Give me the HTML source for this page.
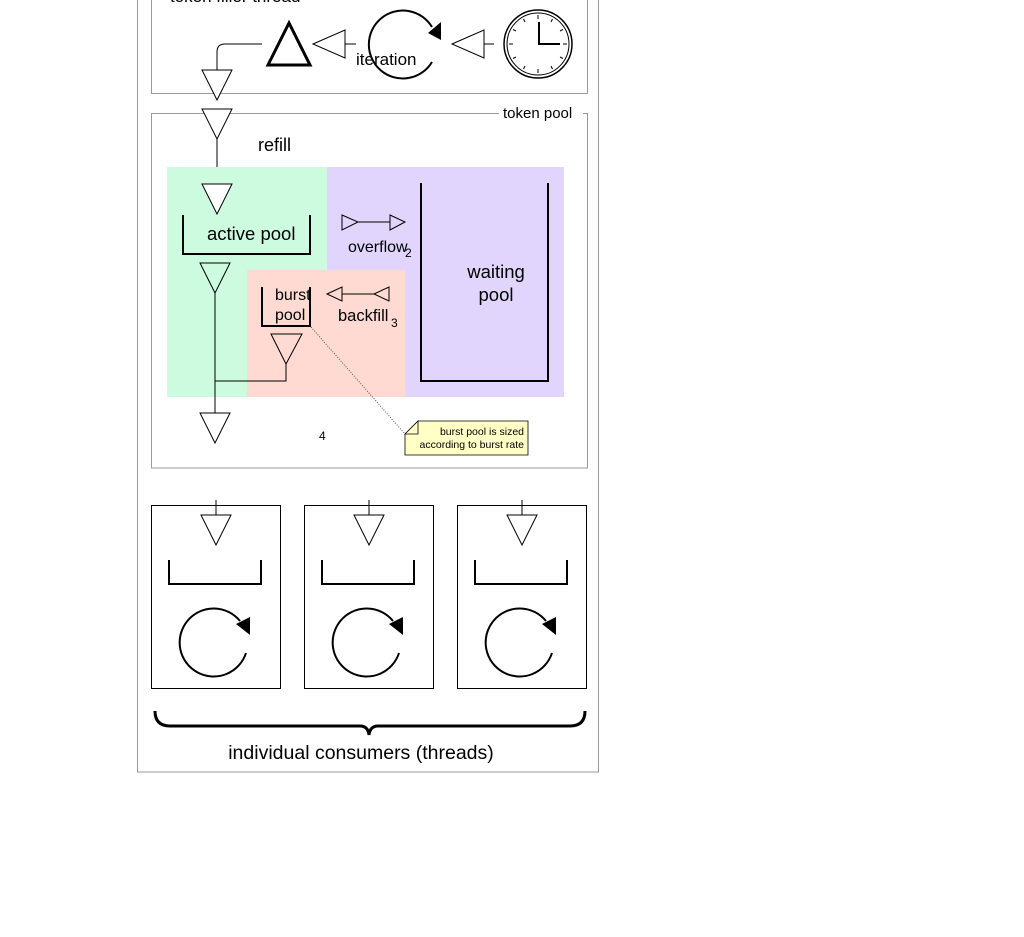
<!DOCTYPE html>
<html><head><meta charset="utf-8"><style>html,body{margin:0;padding:0;background:#fff}svg{display:block}</style></head>
<body>
<svg width="1024" height="937" viewBox="0 0 1024 937" xmlns="http://www.w3.org/2000/svg" font-family="Liberation Sans, DejaVu Sans, sans-serif">
<rect x="0" y="0" width="1024" height="937" fill="#fff"/>
<rect x="137.5" y="-20" width="461" height="792" fill="none" stroke="#999" stroke-width="1"/>
<rect x="151.5" y="-20" width="436" height="113.5" fill="none" stroke="#999" stroke-width="1"/>
<text x="170" y="2" font-size="17">token filler thread</text>
<path d="M262 44 H225 Q217 44 217 52 V70" fill="none" stroke="#000" stroke-width="1"/>
<polygon points="202,70 232,70 217,100" fill="#fff" stroke="#000"/>
<polygon points="289,23 268,65 310,65" fill="none" stroke="#000" stroke-width="3"/>
<polygon points="313,44 345,30 345,58" fill="#fff" stroke="#000"/>
<line x1="345" y1="44" x2="356" y2="44" stroke="#000"/>
<path d="M432 27 A34 34 0 1 0 432 62" fill="none" stroke="#000" stroke-width="2"/>
<polygon points="428,33 441,22 441,40" fill="#000"/>
<text x="356" y="65" font-size="17">iteration</text>
<polygon points="452,44 484,30 484,58" fill="#fff" stroke="#000"/>
<line x1="484" y1="44" x2="494" y2="44" stroke="#000"/>
<circle cx="538" cy="44" r="34" fill="#fff" stroke="#000" stroke-width="1.5"/>
<circle cx="538" cy="44" r="31" fill="none" stroke="#000" stroke-width="1"/>
<g stroke="#000" stroke-width="1">
<line x1="538" y1="15" x2="538" y2="19"/><line x1="538" y1="69" x2="538" y2="73"/>
<line x1="509" y1="44" x2="513" y2="44"/><line x1="563" y1="44" x2="567" y2="44"/>
<line x1="552.5" y1="19" x2="551" y2="22"/><line x1="563" y1="29.5" x2="560" y2="31"/>
<line x1="563" y1="58.5" x2="560" y2="57"/><line x1="552.5" y1="69" x2="551" y2="66"/>
<line x1="523.5" y1="69" x2="525" y2="66"/><line x1="513" y1="58.5" x2="516" y2="57"/>
<line x1="513" y1="29.5" x2="516" y2="31"/><line x1="523.5" y1="19" x2="525" y2="22"/>
</g>
<path d="M539 22 V44 H560" fill="none" stroke="#000" stroke-width="2"/>
<rect x="151.5" y="113.5" width="436" height="354.5" fill="none" stroke="#999"/>
<rect x="499" y="104" width="84" height="16" fill="#fff"/>
<text x="503" y="118" font-size="15">token pool</text>
<polygon points="202,109 232,109 217,139" fill="#fff" stroke="#000"/>
<line x1="217" y1="139" x2="217" y2="184" stroke="#000"/>
<text x="258" y="151" font-size="18">refill</text>
<rect x="167" y="167" width="160" height="230" fill="#ccfbe0"/>
<rect x="327" y="167" width="237" height="230" fill="#e2d5fd"/>
<rect x="247" y="270" width="158" height="127" fill="#fedad2"/>
<polygon points="202,184 232,184 217,214" fill="#fff" stroke="#000"/>
<path d="M183 215 V254 H310 V215" fill="none" stroke="#000" stroke-width="2"/>
<text x="207" y="240" font-size="18.5">active pool</text>
<polygon points="342,215 358,222 342,230" fill="none" stroke="#000"/>
<line x1="358" y1="222" x2="390" y2="222" stroke="#000"/>
<polygon points="390,215 405,222 390,230" fill="none" stroke="#000"/>
<text x="348" y="252" font-size="16">overflow</text>
<text x="405" y="257" font-size="12">2</text>
<path d="M421 183 V381 H548 V183" fill="none" stroke="#000" stroke-width="2"/>
<text x="496" y="278" font-size="18.5" text-anchor="middle">waiting</text>
<text x="496" y="301" font-size="18.5" text-anchor="middle">pool</text>
<polygon points="200,263 230,263 215,293" fill="none" stroke="#000"/>
<line x1="215" y1="293" x2="215" y2="413" stroke="#000"/>
<polygon points="200,413 230,413 215,443" fill="#fff" stroke="#000"/>
<path d="M262 287 V326 H310 V287" fill="none" stroke="#000" stroke-width="2"/>
<text x="275" y="300" font-size="16">burst</text>
<text x="275" y="320" font-size="16">pool</text>
<polygon points="327,294 342,287 342,301" fill="none" stroke="#000"/>
<line x1="342" y1="294" x2="374" y2="294" stroke="#000"/>
<polygon points="374,294 389,287 389,301" fill="none" stroke="#000"/>
<text x="338" y="321" font-size="16.5">backfill</text>
<text x="391" y="327" font-size="12">3</text>
<polygon points="271,334 302,334 286,364" fill="none" stroke="#000"/>
<path d="M286 364 V381 H215" fill="none" stroke="#000"/>
<text x="319" y="440" font-size="12">4</text>
<line x1="311" y1="327" x2="405" y2="434" stroke="#555" stroke-dasharray="1,1.5"/>
<polygon points="405,434 418,421 528,421 528,455 405,455" fill="#ffffc6" stroke="#000" stroke-width="0.8"/>
<polygon points="405,434 418,421 418,434" fill="#ffffc6" stroke="#000" stroke-width="0.8"/>
<text x="524" y="435" font-size="10.5" text-anchor="end">burst pool is sized</text>
<text x="524" y="448" font-size="10.5" text-anchor="end">according to burst rate</text>
<g id="c">
<rect x="151.5" y="505.5" width="129" height="183" fill="#fff" stroke="#000" stroke-width="1"/>
<line x1="216" y1="500" x2="216" y2="515" stroke="#000"/>
<polygon points="201,515 231,515 216,545" fill="#fff" stroke="#000"/>
<path d="M169 560 V584 H261 V560" fill="none" stroke="#000" stroke-width="2"/>
<path d="M246 653 A34 34 0 1 1 240 621" fill="none" stroke="#000" stroke-width="2"/>
<polygon points="236,624 250,617 250,635" fill="#000"/>
</g>
<use href="#c" x="153"/>
<use href="#c" x="306"/>
<path d="M155 711 Q155 726 170 726 H360 Q368 726 369 735 Q370 726 378 726 H570 Q585 726 585 711" fill="none" stroke="#000" stroke-width="3"/>
<text x="361" y="759" font-size="19.5" text-anchor="middle">individual consumers (threads)</text>
</svg>
</body></html>
